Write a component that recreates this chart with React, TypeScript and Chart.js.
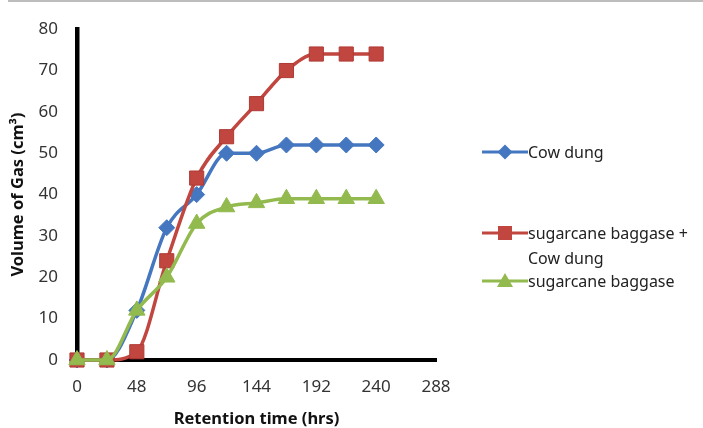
import React, { useEffect, useRef } from "react";
import { Chart, registerables } from "chart.js";

Chart.register(...registerables);

// ---- data ----
const hours = [0, 24, 48, 72, 96, 120, 144, 168, 192, 216, 240];
const cowDung = [0, 0, 12, 32, 40, 50, 50, 52, 52, 52, 52];
const baggaseCowDung = [0, 0, 2, 24, 44, 54, 62, 70, 74, 74, 74];
const baggase = [0, 0, 12, 20, 33, 37, 38, 39, 39, 39, 39];
const seriesNames = ["Cow dung", "sugarcane baggase + Cow dung", "sugarcane baggase"];
const xTickValues = [0, 48, 96, 144, 192, 240, 288];
const yTickValues = [0, 10, 20, 30, 40, 50, 60, 70, 80];

const BLUE = "#4477C0";
const RED = "#C0463F";
const GREEN = "#92BA4E";
const FONT = "'Noto Sans', 'DejaVu Sans', sans-serif";

function toPoints(values: number[]) {
  return hours.map((h, i) => ({ x: h, y: values[i] }));
}

function Marker({ kind, color }: { kind: string; color: string }) {
  return (
    <svg width={46} height={20} style={{ display: "block" }}>
      <line x1={0} y1={10} x2={46} y2={10} stroke={color} strokeWidth={3} />
      {kind === "diamond" && (
        <polygon points="23,2.5 30.5,10 23,17.5 15.5,10" fill={color} />
      )}
      {kind === "square" && <rect x={16} y={3} width={14} height={14} fill={color} />}
      {kind === "triangle" && <polygon points="23,2 31,16 15,16" fill={color} />}
    </svg>
  );
}

export default function App() {
  const canvasRef = useRef<HTMLCanvasElement | null>(null);

  useEffect(() => {
    const canvas = canvasRef.current;
    if (!canvas) return;
    const common = {
      borderWidth: 3.5,
      pointBorderWidth: 1,
      cubicInterpolationMode: "monotone",
      clip: false,
    };
    const chart = new Chart(canvas, {
      type: "line",
      data: {
        datasets: [
          {
            ...common,
            label: seriesNames[0],
            data: toPoints(cowDung),
            borderColor: BLUE,
            backgroundColor: BLUE,
            pointBackgroundColor: BLUE,
            pointBorderColor: BLUE,
            pointStyle: "rectRot",
            pointRadius: 8,
            order: 2,
          },
          {
            ...common,
            label: seriesNames[1],
            data: toPoints(baggaseCowDung),
            borderColor: RED,
            backgroundColor: RED,
            pointBackgroundColor: RED,
            pointBorderColor: "#B03A35",
            pointStyle: "rect",
            pointRadius: 10,
            order: 1,
          },
          {
            ...common,
            label: seriesNames[2],
            data: toPoints(baggase),
            borderColor: GREEN,
            backgroundColor: GREEN,
            pointBackgroundColor: GREEN,
            pointBorderColor: GREEN,
            pointStyle: "triangle",
            pointRadius: 9.5,
            order: 0,
          },
        ],
      },
      options: {
        animation: false,
        responsive: false,
        maintainAspectRatio: false,
        layout: { padding: { left: 0, top: 24, right: 267, bottom: 0 } },
        plugins: {
          legend: { display: false },
          tooltip: { enabled: false },
        },
        scales: {
          x: {
            type: "linear",
            min: 0,
            max: 288,
            afterFit: (scale: any) => {
              scale.height = 68;
            },
            afterBuildTicks: (scale: any) => {
              scale.ticks = xTickValues.map((v) => ({ value: v }));
            },
            grid: { display: false, drawTicks: false },
            border: { display: true, color: "#000", width: 4 },
            ticks: {
              padding: 17,
              color: "#333",
              font: { family: FONT, size: 17 },
              maxRotation: 0,
              autoSkip: false,
            },
            title: {
              display: true,
              text: "Retention time (hrs)",
              color: "#111",
              font: { family: FONT, size: 16.5, weight: "bold", lineHeight: 1.1 },
              padding: { top: 0, bottom: 0 },
            },
          },
          y: {
            type: "linear",
            min: 0,
            max: 80,
            afterFit: (scale: any) => {
              scale.width = 77;
            },
            afterBuildTicks: (scale: any) => {
              scale.ticks = yTickValues.map((v) => ({ value: v }));
            },
            grid: { display: false, drawTicks: false },
            border: { display: true, color: "#000", width: 4.5 },
            ticks: {
              padding: 19,
              color: "#333",
              font: { family: FONT, size: 17 },
              autoSkip: false,
            },
            title: {
              display: true,
              text: "Volume of Gas (cm³)",
              color: "#111",
              font: { family: FONT, size: 16.5, weight: "bold", lineHeight: 1.1 },
              padding: { top: 9, bottom: 0 },
            },
          },
        },
      },
    } as any);
    return () => chart.destroy();
  }, []);

  const legendText: React.CSSProperties = {
    fontFamily: FONT,
    fontSize: 16,
    color: "#222",
    lineHeight: "25px",
    whiteSpace: "nowrap",
  };

  return (
    <div
      style={{
        position: "absolute",
        left: 0,
        top: 0,
        width: 703,
        height: 428,
        background: "#fff",
        overflow: "hidden",
      }}
    >
      <div
        style={{
          position: "absolute",
          left: 8,
          top: 0,
          width: 695,
          height: 2,
          background: "#bdbdbd",
        }}
      />
      <canvas
        ref={canvasRef}
        width={703}
        height={428}
        style={{ position: "absolute", left: 0, top: 0, width: 703, height: 428 }}
      />
      <div style={{ position: "absolute", left: 482, top: 142 }}>
        <Marker kind="diamond" color={BLUE} />
      </div>
      <div style={{ ...legendText, position: "absolute", left: 528, top: 139.5 }}>
        Cow dung
      </div>
      <div style={{ position: "absolute", left: 482, top: 223 }}>
        <Marker kind="square" color={RED} />
      </div>
      <div style={{ ...legendText, position: "absolute", left: 528, top: 220.5 }}>
        sugarcane baggase +
        <br />
        Cow dung
      </div>
      <div style={{ position: "absolute", left: 482, top: 271 }}>
        <Marker kind="triangle" color={GREEN} />
      </div>
      <div style={{ ...legendText, position: "absolute", left: 528, top: 268.5 }}>
        sugarcane baggase
      </div>
    </div>
  );
}
